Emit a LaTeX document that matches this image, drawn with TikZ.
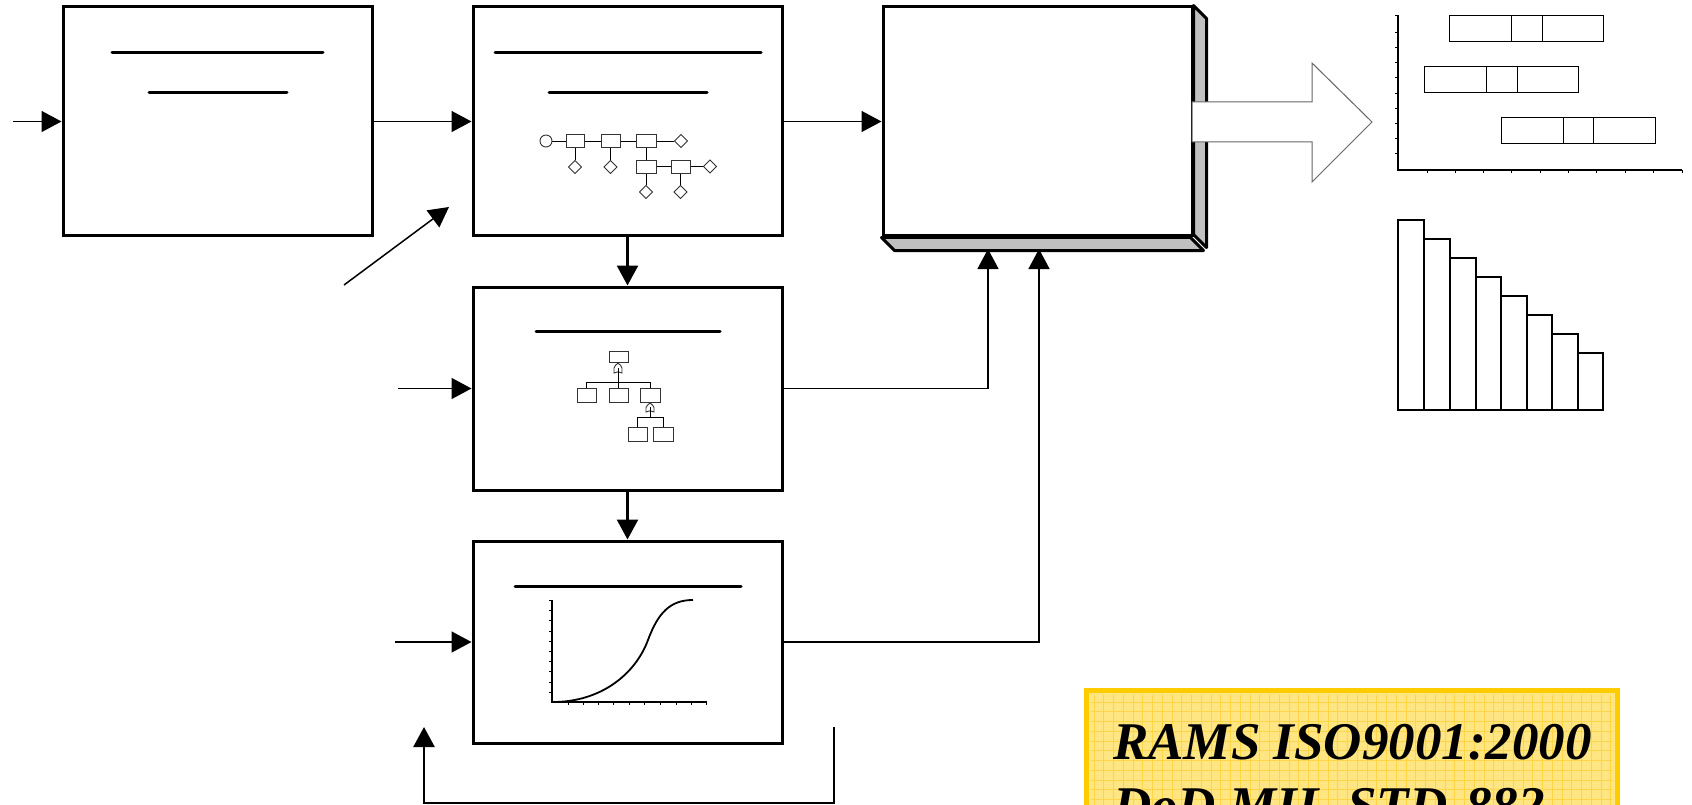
\documentclass[tikz,border=0pt]{standalone}
\usepackage{fontspec}
\setmainfont{Liberation Serif}
\usetikzlibrary{arrows.meta,calc}
\definecolor{shade}{RGB}{192,192,192}
\definecolor{gold}{RGB}{255,204,0}
\definecolor{paleyel}{RGB}{255,230,130}
\definecolor{gridyel}{RGB}{255,212,70}
\begin{document}
\begin{tikzpicture}[x=1pt,y=-1pt,
  box/.style={draw,line width=3pt,minimum width=309pt,minimum height=229pt,inner sep=0pt,fill=white},
  conn/.style={line width=1.5pt,-{Triangle[length=20pt,width=21pt]}},
  heavy/.style={line width=2.5pt},
  rule/.style={line width=3pt,line cap=round},
  fine/.style={line width=0.9pt},
  mini/.style={line width=0.9pt,draw=black!80,fill=white},
  chart/.style={line width=2pt},
  gbar/.style={line width=1pt}]
\clip (0,0) rectangle (1692,805);
\fill[white] (0,0) rectangle (1692,805);

% ---- boxes
\node[box] (b1) at (217.5,121.5) {};
\node[box] (b2) at (627.5,121.5) {};
\node[box,minimum height=203pt] (b3) at (627.5,388.5) {};
\node[box,minimum height=202pt] (b4) at (627.5,642) {};
\node[box] (b5) at (1037.5,121.5) {};
\filldraw[fill=shade,line width=3pt,line join=round] (b5.north east) -- ++(13,13) -- ++(0,229) -- ++(-13,-13) -- cycle;
\filldraw[fill=shade,line width=3pt,line join=round] (b5.south west) -- ++(13,13) -- ++(309,0) -- ++(-13,-13) -- cycle;

% ---- hollow output arrow
\filldraw[fill=white,draw=black!60,line width=1pt] (1192,102) -- (1312,102) -- (1312,63) -- (1372,122) -- (1312,182) -- (1312,142) -- (1192,142) -- cycle;

% ---- rules inside boxes
\draw[rule] (112,53) -- (323,53);
\draw[rule] (149,93) -- (287,93);
\draw[rule] (495,53) -- (761,53);
\draw[rule] (549,93) -- (707,93);
\draw[rule] (536,331) -- (720,331);
\draw[rule] (515,586) -- (741,586);

% ---- reliability block diagram (box 2)
\draw[fine] (552,141) -- (674,141);
\draw[fine] (575,141) -- (575,160);
\draw[fine] (610.5,141) -- (610.5,160);
\draw[fine] (646,141) -- (646,185);
\draw[fine] (656,166.5) -- (703,166.5);
\draw[fine] (680.5,166.5) -- (680.5,185);
\draw[mini] (546,141) circle (6);
\foreach \a/\b/\c in {566/584/134.5, 601/620/134.5, 636/656/134.5, 636/656/160, 671/690/160}
  \draw[mini] (\a,\c) rectangle (\b,\c+13);
\foreach \x/\y in {681/141, 575/167, 610.5/167, 710/166.5, 646/192, 680.5/192}
  \draw[mini] (\x-6.5,\y) -- (\x,\y-6.5) -- (\x+6.5,\y) -- (\x,\y+6.5) -- cycle;

% ---- fault tree (box 3)
\draw[fine] (618,362) -- (618,388);
\draw[fine] (586,388) -- (586,382) -- (650,382) -- (650,388);
\draw[fine] (650,402) -- (650,417);
\draw[fine] (637.5,427) -- (637.5,417) -- (663,417) -- (663,427);
\draw[mini] (609,351) rectangle (628,362);
\draw[mini] (614,373) -- (614,368) to[out=90,in=-125] (618,363) to[out=-55,in=90] (622,368) -- (622,373) to[bend right=30] cycle;
\draw[mini] (646,412) -- (646,407.5) to[out=90,in=-125] (650,403) to[out=-55,in=90] (654,407.5) -- (654,412) to[bend right=30] cycle;
\draw[fine] (618,368) -- (618,382);
\draw[fine] (650,407) -- (650,417);
\foreach \a/\b/\c in {577/596/388, 609/628/388, 640/660/388, 628/647/427, 653/673/427}
  \draw[mini] (\a,\c) rectangle (\b,\c+14);

% ---- S-curve (box 4)
\draw[line width=1.5pt] (552,600) -- (552,702) -- (707,702);
\foreach \y in {600,610,620,631,641,651,661,671,682,692} \draw[fine] (549,\y) -- (552,\y);
\foreach \x in {568,583,598,613,629,644,660,676,691,706} \draw[fine] (\x,702) -- (\x,705);
\draw[line width=1.8pt] (553,702) .. controls (600,702) and (635,675) .. (648,640)
  .. controls (658,613) and (670,600) .. (693,600);

% ---- Gantt chart
\draw[line width=1.5pt] (1398,15) -- (1398,170) -- (1682,170);
\foreach \y in {15,32,47,62,77,93,108,123,138,153} \draw[fine] (1395,\y) -- (1398,\y);
\foreach \x in {1427,1455,1483,1511,1540,1568,1596,1625,1653,1682} \draw[fine] (\x,170) -- (\x,173);
\foreach \l/\d/\e/\r/\t in {1449/1511/1542/1603/16, 1424/1486/1517/1578/67, 1501/1563/1593/1655/118} {
  \draw[gbar] (\l,\t) rectangle (\r,\t+26);
  \draw[gbar] (\d,\t) -- (\d,\t+26);
  \draw[gbar] (\e,\t) -- (\e,\t+26);
}

% ---- Pareto bar chart
\foreach \l/\r/\t in {1398/1424/220, 1424/1450/239, 1450/1476/258, 1476/1501/277, 1501/1527/296, 1527/1552/315, 1552/1578/334, 1578/1603/353}
  \draw[chart] (\l,410) rectangle (\r,\t);

% ---- standards box
\fill[paleyel] (1086,690) rectangle (1617,830);
\begin{scope}
\clip (1091,695) rectangle (1612,830);
\foreach \i in {0,...,55} \draw[gridyel,line width=0.6pt] (1094+\i*9.75,690) -- (1094+\i*9.75,830);
\foreach \i in {0,...,14} \draw[gridyel,line width=0.6pt] (1086,702+\i*9.75) -- (1617,702+\i*9.75);
\end{scope}
\draw[gold,line width=5pt] (1086,690) rectangle (1617,840);
\node[anchor=base west,inner sep=0pt,font=\bfseries\itshape\fontsize{53}{64}\selectfont] (std1) at (1113,759) {RAMS ISO9001:2000};
\node[anchor=base west,inner sep=0pt,font=\bfseries\itshape\fontsize{53}{64}\selectfont] (std2) at (1113,823) {DoD MIL-STD-882};

% ---- connectors
\coordinate (in1) at (13,121.5);
\coordinate (in3) at (398,388.5);
\coordinate (in4) at (395,642);
\coordinate (t5a) at (988,249);
\coordinate (t5b) at (1039,249);
\coordinate (d0) at (344,285);
\coordinate (d1) at (449,207);
\coordinate (fb0) at (834,727);
\coordinate (fb1) at (424,727);
\draw[conn] (in1) -- (in1 -| b1.west);
\draw[conn] (b1.east) -- (b2.west);
\draw[conn] (b2.east) -- (b5.west);
\draw[conn,heavy] (b2.south) -- (b3.north);
\draw[conn,heavy] (b3.south) -- (b4.north);
\draw[conn] (in3) -- (in3 -| b3.west);
\draw[conn] (in4) -- (in4 -| b4.west);
\draw[conn] (b3.east) -| (t5a);
\draw[conn] (b4.east) -| (t5b);
\draw[conn] (d0) -- (d1);
\draw[conn,heavy] (fb0) -- ++(0,76) -| (fb1);
\end{tikzpicture}
\end{document}
